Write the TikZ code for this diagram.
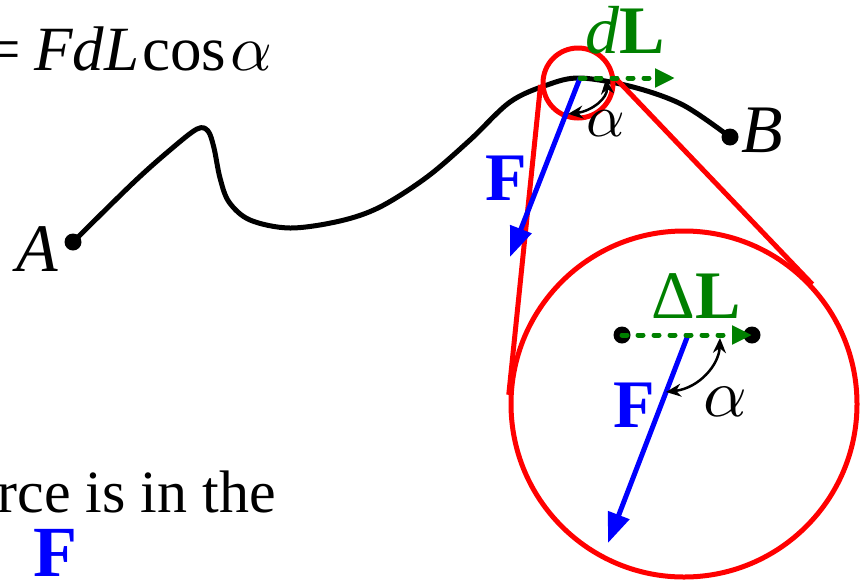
\documentclass[tikz,border=0pt]{standalone}
\usepackage{graphicx}
\usepackage{fontspec}
\setmainfont{Liberation Serif}
\usetikzlibrary{arrows.meta}
\definecolor{dgreen}{RGB}{0,128,0}
\newcommand\fsz[1]{\fontsize{#1}{#1}\selectfont}
\newcommand\bigalpha[1]{\scalebox{#1}{\normalsize$\alpha$}}
\begin{document}
\begin{tikzpicture}[x=1pt,y=-1pt,
  curve/.style={line width=5pt,black,line cap=round,line join=round},
  lens/.style={circle,draw=red,line width=5pt,inner sep=0pt},
  lensline/.style={draw=red,line width=5pt},
  force/.style={blue,line width=5pt,-{Triangle[length=30pt,width=22pt]}},
  disp/.style={dgreen,line width=5pt,line cap=round,dash pattern=on 5pt off 11pt,-{Triangle[length=20pt,width=18pt]}},
  angarc/.style={black,line width=2.5pt,{Stealth[length=15pt,width=13pt]}-{Stealth[length=15pt,width=13pt]}},
  dot/.style={circle,fill=black,inner sep=0pt,minimum size=17pt},
  lbl/.style={inner sep=0pt}]
\useasboundingbox (0,0) rectangle (866,579);

% texts
\node[lbl,anchor=base east] (eq) at (21,70) {\fsz{63}=};
\node[lbl,anchor=base west] (eqr) at (34,70) {\fsz{63}\itshape FdL\kern3pt\upshape cos\kern4pt\bigalpha{6.5}};
\node[lbl,anchor=base east] (txt) at (276,512) {\fsz{60}rce is in the};
\node[lbl,anchor=base west,text=blue] (Fb) at (33,576) {\fsz{72}\bfseries F};

% path
\node[dot] (A) at (73,242) {};
\node[dot] (B) at (730,137) {};
\coordinate (P) at (580,78);
\draw[curve] plot[smooth,tension=0.55] coordinates {(A.center) (133,183) (170,150) (197,129) (208,131) (214,148) (220,178) (229,202) (250,220) (290,228) (340,221) (380,207) (427,177) (470,140) (510,102) (547,85) (580,78) (633,87) (683,105) (B.center)};
\node[lbl,font=\fsz{68}\itshape] (Al) at (37,249) {A};
\node[lbl,font=\fsz{68}\itshape] (Bl) at (762,130) {B};

% magnifier
\node[lens,minimum size=70pt] (sc) at (578,83) {};
\node[lens,minimum size=346pt] (bc) at (684,404) {};
\draw[lensline] (sc.183) -- (bc.177);
\draw[lensline] (sc.8) -- (bc.43.5);

% top vectors
\coordinate (Ft) at (510,257);
\coordinate (Lt) at (675,78);
\draw[force] (P) -- (Ft);
\draw[disp] (P) -- (Lt);
\coordinate (a1) at (606,79);
\coordinate (a2) at (568,114);
\draw[angarc] (a1) .. controls (608,98) and (592,111) .. (a2);
\node[lbl] (al1) at (606,124) {\bigalpha{6}};
\node[lbl,text=blue,font=\fsz{68}\bfseries] (F1) at (506,178) {F};
\node[lbl,anchor=base west,text=dgreen,font=\fsz{68}] (dL) at (585,53) {\itshape d\upshape\bfseries L};

% inner vectors
\node[dot] (d1) at (622,335) {};
\node[dot] (d2) at (752,335) {};
\coordinate (Q) at (688,335);
\coordinate (Fi) at (608,543);
\draw[force] (Q) -- (Fi);
\draw[disp] (d1.center) -- (d2.center);
\coordinate (b1) at (720,338);
\coordinate (b2) at (666,392);
\draw[angarc] (b1) .. controls (719,365) and (699,388) .. (b2);
\node[lbl] (al2) at (725,402) {\bigalpha{6.8}};
\node[lbl,text=blue,font=\fsz{68}\bfseries] (F2) at (634,405) {F};
\node[lbl,text=dgreen,font=\fsz{68}] (DL) at (696,296) {Δ\bfseries L};
\end{tikzpicture}
\end{document}
